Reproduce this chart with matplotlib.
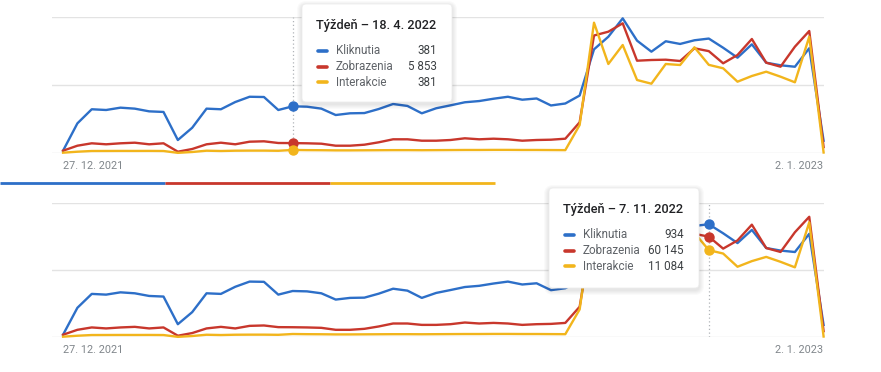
import matplotlib.pyplot as plt
from matplotlib.patches import FancyBboxPatch

plt.rcParams['font.family'] = ['Roboto', 'DejaVu Sans']

W, H = 881, 372

# weekly data, 27. 12. 2021 .. 2. 1. 2023
first_label = '27. 12. 2021'
last_label = '2. 1. 2023'
tip_dates = ['18. 4. 2022', '7. 11. 2022']
tip_weeks = [16, 45]

series_names = ['Kliknutia', 'Zobrazenia', 'Interakcie']
colors = ['#2d6fc8', '#c8372c', '#f2b51c']
axis_max = [1110, 80300, 17100]

clicks = [19, 242, 357, 351, 370, 362, 340, 335, 106, 206,
          362, 357, 416, 459, 457, 351, 381, 378, 362, 310,
          324, 326, 359, 400, 384, 324, 365, 389, 414, 424,
          443, 459, 435, 445, 388, 404, 469, 846, 949, 1099,
          917, 827, 912, 890, 920, 934, 859, 778, 887, 737,
          716, 704, 855, 100]
impressions = [1358, 4310, 5727, 5137, 5727, 6081, 5137, 5727, 768, 2362,
               5137, 6081, 5137, 6672, 6908, 5904, 5853, 5727, 5491, 4310,
               4310, 4900, 6318, 8089, 8089, 7262, 7262, 7676, 8680, 8089,
               8443, 8089, 7262, 7676, 7853, 8443, 18127, 69377, 71621, 76580,
               54497, 54910, 55087, 54320, 61820, 60145, 52963, 57864, 67311, 53317,
               50956, 62765, 72035, 3500]
interactions = [38, 163, 251, 255, 260, 258, 262, 250, 20, 126,
                289, 251, 290, 300, 300, 280, 381, 360, 350, 330,
                330, 340, 350, 360, 360, 350, 360, 370, 380, 380,
                390, 390, 380, 380, 370, 360, 3521, 16383, 11191, 13579,
                9179, 8713, 11191, 11065, 13291, 11084, 10650, 8965, 9682, 10222,
                9594, 8890, 14624, 60]

series = [clicks, impressions, interactions]


def fmt(v):
    return f'{v:,}'.replace(',', ' ')


def draw_panel(fig, top, bottom, week):
    n = len(clicks)
    ax = fig.add_axes([52 / W, 1 - bottom / H, (823.6 - 52) / W, (bottom - top) / H])
    ax.set_xlim(-0.77, n - 1)
    ax.set_ylim(0, 1)
    ax.set_yticks([0, 0.5, 1])
    ax.set_yticklabels([])
    ax.grid(axis='y', color='#e3e3e3', lw=1)
    ax.set_axisbelow(True)
    for s in ax.spines.values():
        s.set_visible(False)
    ax.tick_params(length=0, pad=6, labelsize=7.8, labelcolor='#80868b')
    ax.set_xticks([0, n - 1])
    labels = ax.set_xticklabels([first_label, last_label])
    labels[0].set_ha('left')
    labels[1].set_ha('right')
    ax.axvline(week, color='#b0b4b8', ls=(0, (1, 2)), lw=0.9)

    for vals, c, m in zip(series, colors, axis_max):
        tw = ax.twinx()
        tw.set_ylim(0, m)
        tw.axis('off')
        tw.plot(range(n), vals, color=c, lw=1.7, clip_on=False,
                solid_joinstyle='round')
        tw.plot(week, vals[week], 'o', color=c, ms=6.5, clip_on=False)


def draw_tooltip(ov, x0, y0, w, h, date, week):
    for k in range(1, 6):
        ov.add_patch(FancyBboxPatch((x0 - k, y0 - k + 2), w + 2 * k, h + 2 * k,
                                    boxstyle=f'round,pad=0,rounding_size={4 + k}',
                                    fc='black', ec='none', alpha=0.018))
    ov.add_patch(FancyBboxPatch((x0, y0), w, h,
                                boxstyle='round,pad=0,rounding_size=4',
                                fc='white', ec='#ececec', lw=0.6))
    ov.text(x0 + 14, y0 + 22, f'Týždeň – {date}', fontsize=9.2,
            color='#202124', weight='medium', va='center')
    for i, (name, c, vals) in enumerate(zip(series_names, colors, series)):
        y = y0 + 47 + i * 15.5
        ov.plot([x0 + 16, x0 + 25], [y, y], color=c, lw=2.6,
                solid_capstyle='round')
        ov.text(x0 + 34, y, name, fontsize=8.4, color='#5f6368', va='center')
        ov.text(x0 + 135, y, fmt(vals[week]), fontsize=8.4, color='#3c4043',
                va='center', ha='right')


fig = plt.figure(figsize=(W / 100, H / 100), dpi=100)

draw_panel(fig, 17, 153, tip_weeks[0])
draw_panel(fig, 203, 337, tip_weeks[1])

ov = fig.add_axes([0, 0, 1, 1])
ov.set_xlim(0, W)
ov.set_ylim(H, 0)
ov.axis('off')

# coloured separator between the two charts
for i, c in enumerate(colors):
    ov.plot([i * 165, (i + 1) * 165], [183, 183], color=c, lw=2,
            solid_capstyle='butt')

draw_tooltip(ov, 302, 4, 150, 98, tip_dates[0], tip_weeks[0])
draw_tooltip(ov, 549, 188, 150, 100, tip_dates[1], tip_weeks[1])

fig.savefig('out.png', dpi=100)
